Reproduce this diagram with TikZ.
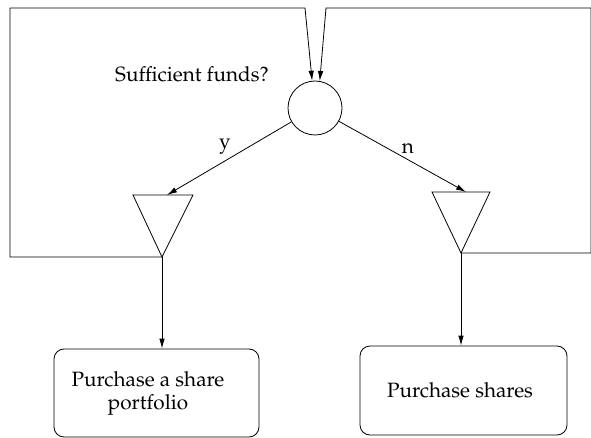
\documentclass[tikz,border=0pt]{standalone}
\usepackage[T1]{fontenc}
\usepackage{mathpazo}
\usetikzlibrary{arrows.meta}

\tikzset{
  arr/.style={-{Latex[length=10pt,width=5.5pt]}},
  box/.style={draw, rounded corners=10pt},
  txt/.style={font=\fontsize{20.7}{23}\selectfont, align=center}
}

\begin{document}
\begin{tikzpicture}[x=1pt,y=-1pt,line width=0.8pt]
\useasboundingbox (0,0) rectangle (591,438);
% decision
\node[draw, circle, minimum size=54pt, inner sep=0pt] (funds) at (315,108) {};
\node[txt] (ask) at (192,74) {Sufficient funds?};
% branch triangles
\coordinate (ytop) at (167,195);
\coordinate (yapex) at (162,257);
\coordinate (ntop) at (466,192);
\coordinate (napex) at (461,253);
\draw (133,195) -- (193,195) -- (yapex) -- cycle;
\draw (432,192) -- (490,192) -- (napex) -- cycle;
% outcomes
\node[box, minimum width=205pt, minimum height=88pt] (buyport) at (156.5,393) {};
\node[txt] (buyporttxt) at (148,393) {Purchase a share\\ portfolio};
\node[box, minimum width=207pt, minimum height=89pt] (buyshares) at (463.5,390.5) {};
\node[txt] (buysharestxt) at (460,390.5) {Purchase shares};
% connectors
\path[draw,arr] (funds) -- (ytop);
\path[draw,arr] (funds) -- (ntop);
\node[txt] (ylab) at (225,147) {y};
\node[txt] (nlab) at (408,149) {n};
\path[draw,arr] (yapex) -- (yapex |- buyport.north);
\path[draw,arr] (napex) -- (napex |- buyshares.north);
% loops back
\path[draw,arr] (yapex) -- (10,257) -- (10,8) -- (305,8) -- (funds.96);
\path[draw,arr] (napex) -- (591,253) -- (591,8) -- (326,8) -- (funds.80);
\end{tikzpicture}
\end{document}
